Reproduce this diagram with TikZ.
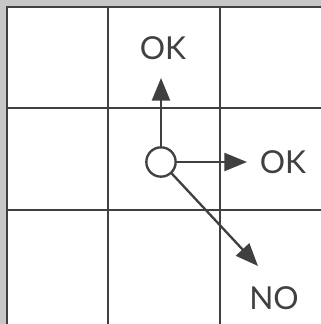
\documentclass[tikz,border=0pt]{standalone}
\usepackage{fontspec}
\setsansfont{Lato}
\usepackage{tikz}
\usetikzlibrary{arrows.meta}

\definecolor{frame}{gray}{0.78}
\definecolor{ink}{gray}{0.25}

\begin{document}
\begin{tikzpicture}[
    x=0.03cm, y=-0.03cm,
    gridline/.style={draw=ink, line width=0.08cm},
    move/.style={draw=ink, fill=ink, line width=0.07cm,
                 -{Triangle[length=0.68cm, width=0.54cm]}},
    lbl/.style={text=ink, font=\sffamily\fontsize{27}{27}\selectfont, inner sep=0pt},
    piecedot/.style={circle, draw=ink, fill=white, line width=0.07cm,
                minimum size=0.88cm, inner sep=0pt}
]
% background and margins
\fill[frame] (0,0) rectangle (321,324);
\fill[white] (7,7) rectangle (321,324);
\useasboundingbox (0,0) rectangle (321,324);

% the 3x3 grid
\draw[gridline] (7,324) -- (7,7) -- (321,7);
\foreach \x in {108,220}
  \draw[gridline] (\x,7) -- (\x,324);
\foreach \y in {108,210}
  \draw[gridline] (7,\y) -- (321,\y);

% piece and its moves
\node[piecedot] (piece) at (161,162) {};
\coordinate (up)    at (161,78);
\coordinate (right) at (247,162);
\coordinate (diag)  at (258,266);

\node[lbl] (okup)    at (163,48)  {OK};
\node[lbl] (okright) at (283,162) {OK};
\node[lbl] (no)      at (274,298) {NO};

\draw[move] (piece) -- (up);
\draw[move] (piece) -- (right);
\draw[move] (piece) -- (diag);
\end{tikzpicture}
\end{document}
